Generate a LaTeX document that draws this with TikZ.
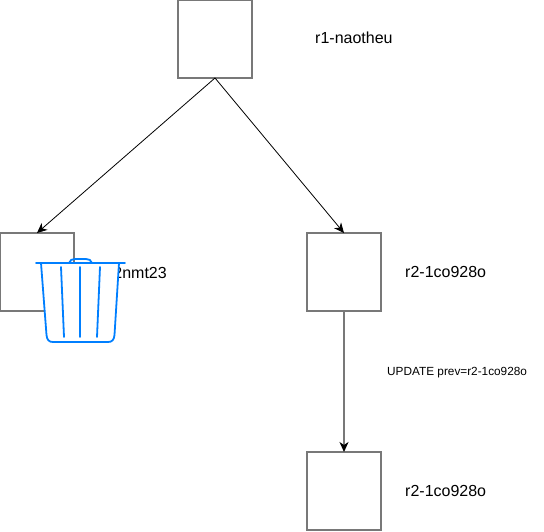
\documentclass[tikz,border=0pt]{standalone}
\usepackage{fontspec}
\setmainfont{Liberation Sans}
\usetikzlibrary{arrows.meta}

\definecolor{binblue}{RGB}{0,127,255}
\definecolor{edgegray}{RGB}{120,120,120}

\newcommand*{\pagew}{544}
\newcommand*{\pageh}{531}

\begin{document}
\begin{tikzpicture}
[
	x=1pt,y=-1pt,
	revbox/.style={draw=edgegray,line width=1.5pt,rectangle,fill=white,inner sep=0pt,outer sep=0pt,minimum width=74pt,minimum height=78pt},
	revname/.style={anchor=west,inner sep=0pt,font=\fontsize{16}{18}\selectfont},
	updname/.style={anchor=west,inner sep=0pt,font=\fontsize{11.8}{14}\selectfont},
	link/.style={-{Stealth[length=10pt,width=9pt,inset=3pt]},line width=0.8pt},
	binline/.style={draw=binblue,line width=1.8pt,line cap=round,line join=round}
]

	\useasboundingbox (0,0) rectangle (\pagew,\pageh);

	% revisions
	\node[revbox] at (215,39) (top) {};
	\node[revbox] at (37,272) (gone) {};
	\node[revbox] at (344,272) (kept) {};
	\node[revbox] at (344,491) (next) {};

	% labels
	\node[revname] at (315,38) (topname) {r1-naotheu};
	\node[revname,anchor=east] at (167,273) (gonename) {r2-2nmt23};
	\node[revname] at (405,272) (keptname) {r2-1co928o};
	\node[revname] at (405,491) (nextname) {r2-1co928o};
	\node[updname] at (387,373) (update) {UPDATE prev=r2-1co928o};

	% links
	\draw[link] (top.south) -- (gone.north);
	\draw[link] (top.south) -- (kept.north);
	\draw[link,draw=edgegray,line width=1.5pt,-{Stealth[length=10pt,width=9pt,inset=3pt,black]}] (kept.south) -- (next.north);

	% bin
	\draw[binline,fill=white] (41,263) -- (46.5,335) .. controls (47,340) and (49,342) .. (53,342) -- (108,342) .. controls (112,342) and (114,340) .. (114.5,335) -- (119,263) -- cycle;
	\draw[binline] (36,263) -- (125,263);
	\draw[binline] (69,263) .. controls (70,260) and (72,259) .. (75,259) -- (86,259) .. controls (89,259) and (91,260) .. (92,263);
	\draw[binline] (61,267) -- (64,337);
	\draw[binline] (80,267) -- (80,337);
	\draw[binline] (100,267) -- (97,337);

\end{tikzpicture}
\end{document}
